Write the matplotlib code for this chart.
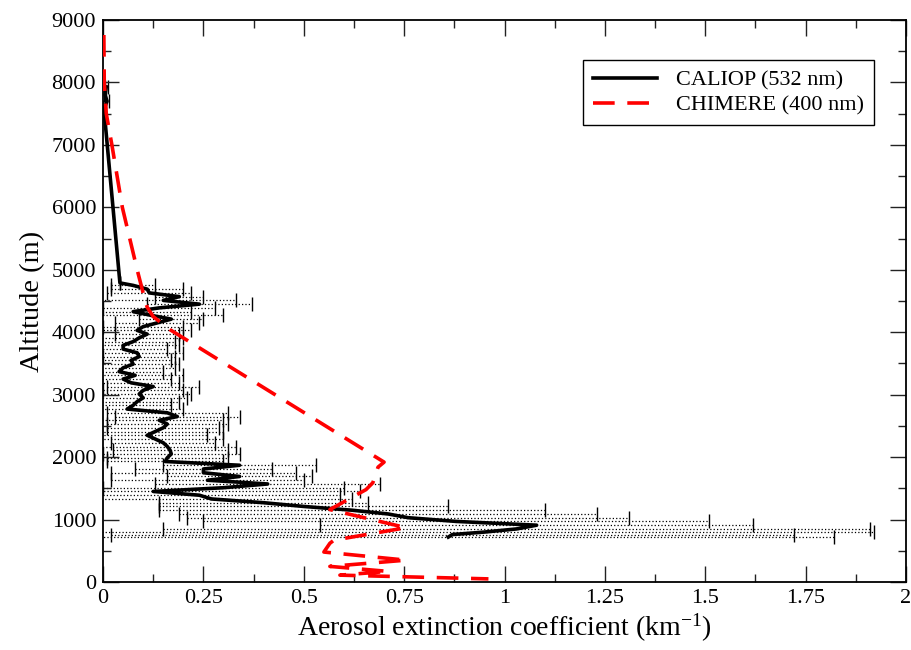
import matplotlib
matplotlib.use("Agg")
import matplotlib.pyplot as plt
from matplotlib.ticker import MultipleLocator

plt.rcParams['font.family'] = ['Liberation Serif', 'DejaVu Serif']
plt.rcParams['mathtext.fontset'] = 'custom'
plt.rcParams['mathtext.rm'] = 'Liberation Serif'
plt.rcParams['mathtext.it'] = 'Liberation Serif:italic'

# CALIOP (532 nm) extinction profile: altitude (m), mean extinction (km-1), std (km-1)
caliop_alt = [7930, 7800, 7700, 7600, 7520, 4790,
              4750, 4690, 4630, 4570, 4510, 4450, 4390, 4330, 4270, 4210,
              4150, 4090, 4030, 3970, 3910, 3850, 3790, 3730, 3670, 3610,
              3550, 3490, 3430, 3370, 3310, 3250, 3190, 3130, 3070, 3010,
              2950, 2890, 2830, 2770, 2710, 2650, 2590, 2530, 2470, 2410,
              2350, 2290, 2230, 2170, 2110, 2050, 1990, 1930, 1870, 1810,
              1750, 1690, 1630, 1570, 1510, 1450, 1390, 1330, 1270, 1210,
              1150, 1090, 1030, 970, 910, 850, 800, 760, 720]
caliop_ext = [0.008, 0.005, 0.010, 0.004, 0.003, 0.042,
              0.075, 0.110, 0.115, 0.190, 0.150, 0.240, 0.140, 0.075, 0.120, 0.170,
              0.135, 0.100, 0.085, 0.110, 0.090, 0.075, 0.050, 0.050, 0.085, 0.090,
              0.070, 0.075, 0.050, 0.040, 0.080, 0.050, 0.070, 0.125, 0.100, 0.090,
              0.100, 0.085, 0.075, 0.060, 0.160, 0.185, 0.140, 0.160, 0.150, 0.130,
              0.110, 0.130, 0.150, 0.160, 0.167, 0.170, 0.160, 0.155, 0.340, 0.250,
              0.250, 0.340, 0.260, 0.410, 0.300, 0.125, 0.240, 0.270, 0.400, 0.500,
              0.620, 0.710, 0.760, 0.880, 1.080, 1.030, 0.950, 0.870, 0.860]
caliop_err = [0.004, 0.003, 0.006, 0.003, 0.002, 0.000,
              0.055, 0.090, 0.105, 0.060, 0.180, 0.130, 0.140, 0.145, 0.180, 0.080,
              0.105, 0.100, 0.135, 0.080, 0.110, 0.105, 0.140, 0.110, 0.115, 0.090,
              0.100, 0.115, 0.130, 0.110, 0.120, 0.120, 0.120, 0.115, 0.100, 0.130,
              0.110, 0.105, 0.095, 0.140, 0.150, 0.155, 0.160, 0.150, 0.140, 0.170,
              0.150, 0.170, 0.130, 0.170, 0.143, 0.170, 0.150, 0.145, 0.190, 0.170,
              0.230, 0.180, 0.240, 0.280, 0.300, 0.515, 0.350, 0.350, 0.260, 0.360,
              0.480, 0.520, 0.550, 0.630, 0.540, 0.880, 0.970, 0.850, 0.960]

# CHIMERE (400 nm) simulated extinction profile
chimere_alt = [8760, 8000, 7500, 7000, 6000, 5000, 4500, 4400, 4250, 4040,
               1920, 1840, 1590, 1480, 1160, 870, 670, 620, 480, 350,
               250, 170, 110, 50]
chimere_ext = [0.002, 0.003, 0.008, 0.022, 0.048, 0.085, 0.105, 0.110, 0.125, 0.167,
               0.700, 0.685, 0.672, 0.655, 0.565, 0.755, 0.575, 0.565, 0.550, 0.755,
               0.565, 0.710, 0.590, 0.960]

x_ticks = [0, 0.25, 0.5, 0.75, 1, 1.25, 1.5, 1.75, 2]
x_ticklabels = ['0', '0.25', '0.5', '0.75', '1', '1.25', '1.5', '1.75', '2']
y_ticks = [0, 1000, 2000, 3000, 4000, 5000, 6000, 7000, 8000, 9000]

fig = plt.figure(figsize=(9.12, 6.5), dpi=100)
ax = fig.add_axes([0.113, 0.1046, 0.8804, 0.8646])

# standard deviation as dotted horizontal bars with caps
eb = ax.errorbar(caliop_ext, caliop_alt, xerr=caliop_err, fmt='none',
                 ecolor='black', elinewidth=0.9, capsize=5, capthick=1.0,
                 zorder=1)
for col in eb[2]:
    col.set_linestyle((0, (1, 1.7)))

ax.plot(caliop_ext, caliop_alt, color='black', lw=2.6,
        label='CALIOP (532 nm)', zorder=3)
ax.plot(chimere_ext, chimere_alt, color='#ff0000', lw=2.6,
        dashes=(6, 3.5), label='CHIMERE (400 nm)', zorder=4)

ax.set_xlim(0, 2)
ax.set_ylim(0, 9000)
ax.set_xticks(x_ticks)
ax.set_xticklabels(x_ticklabels)
ax.set_yticks(y_ticks)
ax.xaxis.set_minor_locator(MultipleLocator(0.125))
ax.yaxis.set_minor_locator(MultipleLocator(500))

ax.tick_params(which='both', direction='in', top=True, right=True,
               labelsize=16, color='#222222')
ax.tick_params(which='major', length=11.5, width=1.0, pad=5)
ax.tick_params(which='minor', length=5.5, width=1.0)
for sp in ax.spines.values():
    sp.set_linewidth(1.3)

ax.set_xlabel('Aerosol extinction coefficient (km$^{-1}$)', fontsize=20,
              labelpad=3)
ax.set_ylabel('Altitude (m)', fontsize=20.5, labelpad=5)

leg = ax.legend(loc='upper right', bbox_to_anchor=(0.960, 0.929),
                borderaxespad=0, fontsize=16, handlelength=2.9,
                handletextpad=0.85, borderpad=0.45, labelspacing=0.2,
                fancybox=False, framealpha=1, edgecolor='black')
leg.get_frame().set_linewidth(1.0)

fig.savefig('out.png', dpi=100)
